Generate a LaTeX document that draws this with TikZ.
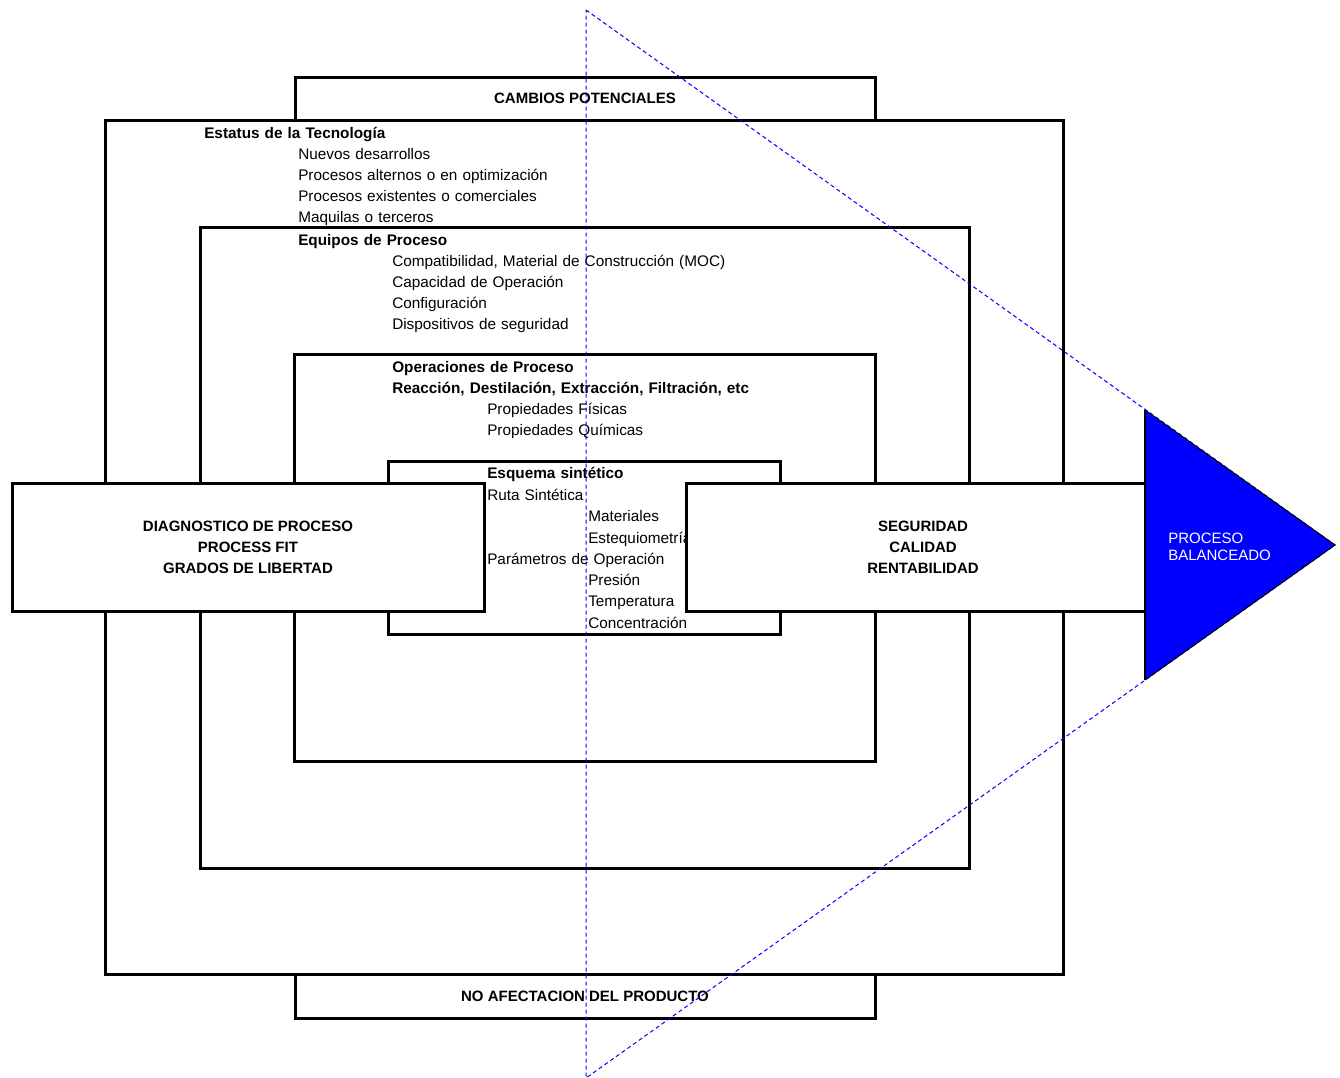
\documentclass[tikz,border=0pt]{standalone}
\usepackage{fontspec}
\setmainfont{Liberation Sans}
\newcommand\txtsize{\fontsize{11.25pt}{15.75pt}\selectfont}
\newcommand\listsize{\fontsize{11.5pt}{15.75pt}\selectfont\spaceskip=0.33em plus 0.1em}
\begin{document}
\begin{tikzpicture}[x=0.75pt,y=-0.75pt,
  frame/.style={draw=black,line width=2.25pt},
  guide/.style={draw=blue,line width=0.75pt,dash pattern=on 3pt off 2.25pt},
  item/.style={anchor=base west,inner sep=0pt,font=\listsize},
  head/.style={item,font=\listsize\bfseries},
  title/.style={font=\txtsize\bfseries},
  panel/.style={frame,fill=white,align=center,font=\txtsize\bfseries,inner sep=0pt,
    minimum height=96pt}]
\useasboundingbox (0,0) rectangle (1340,1078);

% outer frame with the top and bottom tabs
\draw[frame] (105,120) rectangle (1063,974);
\draw[frame,fill=white] (295,77) rectangle (875,120);
\draw[frame,fill=white] (295,974) rectangle (875,1018);
\node[title] (cambios) at (585,98) {CAMBIOS POTENCIALES};
\node[title] (noafect) at (585,996) {NO AFECTACION DEL PRODUCTO};

% nested frames
\draw[frame] (200,227) rectangle (969,868);
\draw[frame] (294,354) rectangle (875,761);
\draw[frame] (388,461) rectangle (780,634);

% technology status
\node[head] (t0) at (204,138) {Estatus de la Tecnología};
\node[item] (t1) at (298,159) {Nuevos desarrollos};
\node[item] (t2) at (298,180) {Procesos alternos o en optimización};
\node[item] (t3) at (298,201) {Procesos existentes o comerciales};
\node[item] (t4) at (298,222) {Maquilas o terceros};

% process equipment
\node[head] (e0) at (298,245) {Equipos de Proceso};
\node[item] (e1) at (392,266) {Compatibilidad, Material de Construcción (MOC)};
\node[item] (e2) at (392,287) {Capacidad de Operación};
\node[item] (e3) at (392,308) {Configuración};
\node[item] (e4) at (392,329) {Dispositivos de seguridad};

% process operations
\node[head] (o0) at (392,372) {Operaciones de Proceso};
\node[head] (o1) at (392,393) {Reacción, Destilación, Extracción, Filtración, etc};
\node[item] (o2) at (487,414) {Propiedades Físicas};
\node[item] (o3) at (487,435) {Propiedades Químicas};

% synthetic scheme
\node[head] (s0) at (487,478) {Esquema sintético};
\node[item] (s1) at (487,500) {Ruta Sintética};
\node[item] (s2) at (588,521) {Materiales};
\node[item] (s3) at (588,543) {Estequiometría};
\node[item] (s4) at (487,564) {Parámetros de Operación};
\node[item] (s5) at (588,585) {Presión};
\node[item] (s6) at (588,606) {Temperatura};
\node[item] (s7) at (588,628) {Concentración};

% side panels
\node[panel,minimum width=354pt] (diag) at (248,547)
  {DIAGNOSTICO DE PROCESO\\PROCESS FIT\\GRADOS DE LIBERTAD};
\node[panel,minimum width=355.5pt] (result) at (923,547)
  {SEGURIDAD\\CALIDAD\\RENTABILIDAD};

% guide triangle
\coordinate (gtop) at (586,10);
\coordinate (gtip) at (1335,545);
\coordinate (gbot) at (586,1078);
\draw[guide] (gtop) -- (gtip) -- (gbot) -- cycle;

% balanced-process arrow head
\coordinate (atop) at (1145,410);
\coordinate (abot) at (1145,680);
\fill[blue] (atop) -- (gtip) -- (abot) -- cycle;
\draw[line width=0.75pt] (atop) -- (gtip) -- (abot);
\draw[line width=1.5pt] (atop) -- (abot);
\node[anchor=base west,inner sep=0pt,text=white,align=left,
  font=\fontsize{11.25pt}{12.75pt}\selectfont] (bal) at (1168,560)
  {PROCESO\\BALANCEADO};
\end{tikzpicture}
\end{document}
